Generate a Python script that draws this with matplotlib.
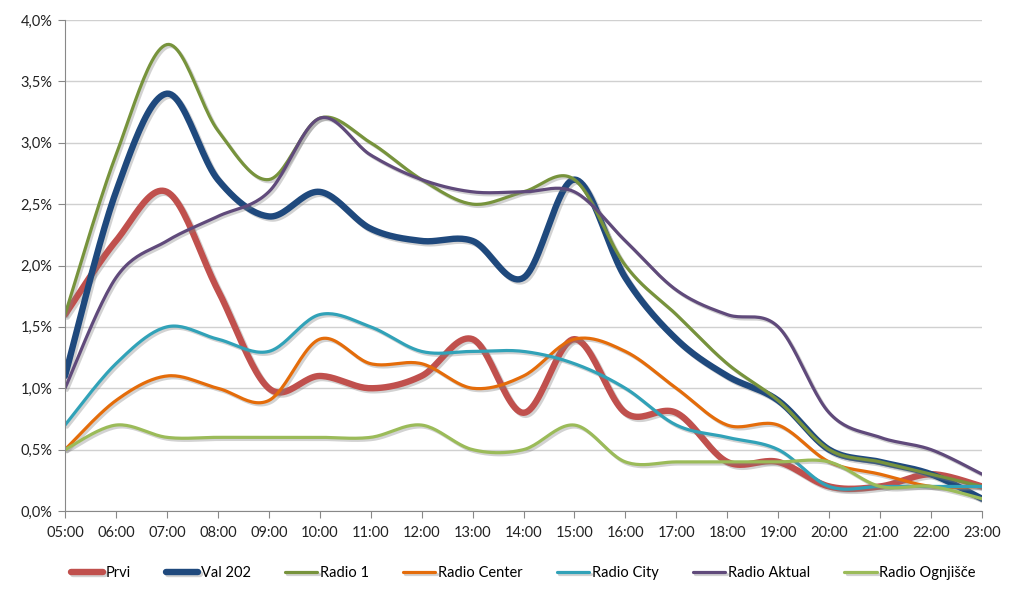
import numpy as np
import matplotlib.pyplot as plt
import matplotlib.patheffects as pe
from matplotlib.ticker import FuncFormatter

plt.rcParams['font.family'] = ['Lato', 'DejaVu Sans']

hours = ["05:00", "06:00", "07:00", "08:00", "09:00", "10:00", "11:00", "12:00",
         "13:00", "14:00", "15:00", "16:00", "17:00", "18:00", "19:00", "20:00",
         "21:00", "22:00", "23:00"]

prvi = [1.6, 2.2, 2.6, 1.8, 1.0, 1.1, 1.0, 1.1, 1.4, 0.8, 1.4, 0.8, 0.8, 0.4, 0.4, 0.2, 0.2, 0.3, 0.2]
val202 = [1.1, 2.6, 3.4, 2.7, 2.4, 2.6, 2.3, 2.2, 2.2, 1.9, 2.7, 1.9, 1.4, 1.1, 0.9, 0.5, 0.4, 0.3, 0.1]
radio1 = [1.6, 2.9, 3.8, 3.1, 2.7, 3.2, 3.0, 2.7, 2.5, 2.6, 2.7, 2.0, 1.6, 1.2, 0.9, 0.5, 0.4, 0.3, 0.2]
center = [0.5, 0.9, 1.1, 1.0, 0.9, 1.4, 1.2, 1.2, 1.0, 1.1, 1.4, 1.3, 1.0, 0.7, 0.7, 0.4, 0.3, 0.2, 0.2]
city = [0.7, 1.2, 1.5, 1.4, 1.3, 1.6, 1.5, 1.3, 1.3, 1.3, 1.2, 1.0, 0.7, 0.6, 0.5, 0.2, 0.2, 0.2, 0.2]
aktual = [1.0, 1.9, 2.2, 2.4, 2.6, 3.2, 2.9, 2.7, 2.6, 2.6, 2.6, 2.2, 1.8, 1.6, 1.5, 0.8, 0.6, 0.5, 0.3]
ognjisce = [0.5, 0.7, 0.6, 0.6, 0.6, 0.6, 0.6, 0.7, 0.5, 0.5, 0.7, 0.4, 0.4, 0.4, 0.4, 0.4, 0.2, 0.2, 0.1]

series = [
    ("Prvi", prvi, "#C0504D", 4.6),
    ("Val 202", val202, "#1F497D", 4.6),
    ("Radio 1", radio1, "#77933C", 2.3),
    ("Radio Center", center, "#E46C0A", 2.3),
    ("Radio City", city, "#31A2B8", 2.3),
    ("Radio Aktual", aktual, "#604A7B", 2.3),
    ("Radio Ognjišče", ognjisce, "#9BBB59", 2.3),
]


def smooth(x, y, n=24):
    # Excel-like smoothed line: bezier with catmull-rom control points
    x = np.asarray(x, float)
    y = np.asarray(y, float)
    xs, ys = [], []
    t = np.linspace(0, 1, n, endpoint=False)
    for i in range(len(x) - 1):
        i0 = max(i - 1, 0)
        i3 = min(i + 2, len(x) - 1)
        p0 = np.array([x[i], y[i]])
        p3 = np.array([x[i + 1], y[i + 1]])
        c1 = p0 + (p3 - np.array([x[i0], y[i0]])) / 6.0
        c2 = p3 - (np.array([x[i3], y[i3]]) - p0) / 6.0
        b = ((1 - t) ** 3)[:, None] * p0 + (3 * (1 - t) ** 2 * t)[:, None] * c1 \
            + (3 * (1 - t) * t ** 2)[:, None] * c2 + (t ** 3)[:, None] * p3
        xs.extend(b[:, 0])
        ys.extend(b[:, 1])
    xs.append(x[-1])
    ys.append(y[-1])
    return np.array(xs), np.array(ys)


fig = plt.figure(figsize=(10.23, 6.0), dpi=100)
ax = fig.add_axes([65 / 1023, 1 - 511 / 600, (982 - 65) / 1023, (511 - 20) / 600])

xpos = np.arange(len(hours))
for name, vals, color, lw in series:
    sx, sy = smooth(xpos, vals)
    ax.plot(sx, sy, color=color, lw=lw, label=name, solid_capstyle='round',
            path_effects=[pe.SimpleLineShadow(offset=(1.5, -1.5), shadow_color='#808080', alpha=0.35),
                          pe.Normal()])

ax.set_xlim(0, len(hours) - 1)
ax.set_ylim(0, 4.0)
ax.set_xticks(xpos)
ax.set_xticklabels(hours)
ax.set_yticks(np.arange(0, 4.01, 0.5))
ax.yaxis.set_major_formatter(FuncFormatter(lambda v, p: f"{v:.1f}%".replace(".", ",")))

ax.grid(axis='y', color='#D0D0D0', lw=1)
ax.set_axisbelow(True)
for s in ['top', 'right']:
    ax.spines[s].set_visible(False)
ax.spines['left'].set_color('#888888')
ax.spines['bottom'].set_color('#888888')
ax.tick_params(axis='both', colors='#888888', labelcolor='#222222', labelsize=10.5, length=5)
ax.tick_params(axis='y', length=5, pad=4)
ax.tick_params(axis='x', pad=6)

ax.legend(loc='upper center', bbox_to_anchor=(0.5, -0.085), ncol=7, frameon=False,
          fontsize=10.5, handlelength=2.2, handletextpad=0.2, columnspacing=2.35)

plt.savefig("out.png", dpi=100)
